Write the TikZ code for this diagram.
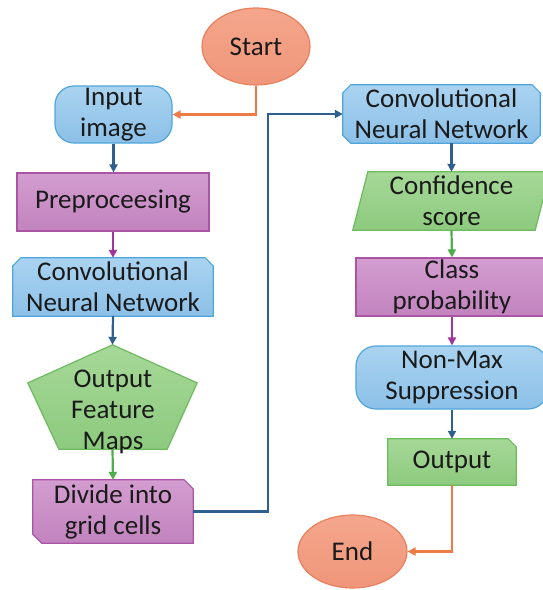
\documentclass[tikz,border=0pt]{standalone}
\usepackage{fontspec}
\setmainfont{Carlito}
\usetikzlibrary{arrows.meta,calc,backgrounds,shapes.geometric}
\definecolor{orfill}{HTML}{F4A68C}
\definecolor{orfill2}{HTML}{F0967A}
\definecolor{ordraw}{HTML}{E8805C}
\definecolor{blfill}{HTML}{AAD3F0}
\definecolor{blfill2}{HTML}{8CC0E8}
\definecolor{bldraw}{HTML}{4FA6DC}
\definecolor{pufill}{HTML}{D39DD0}
\definecolor{pufill2}{HTML}{C283BE}
\definecolor{pudraw}{HTML}{A955A4}
\definecolor{grfill}{HTML}{A6D898}
\definecolor{grfill2}{HTML}{8DCA7E}
\definecolor{grdraw}{HTML}{6DBB5E}
\definecolor{cor}{HTML}{EE7A45}
\definecolor{cbl}{HTML}{2F5F8F}
\definecolor{cpu}{HTML}{A0359B}
\definecolor{cgr}{HTML}{4DAE4A}
\definecolor{txtc}{HTML}{1A1A1A}
\begin{document}
\begin{tikzpicture}[x=1pt,y=-1pt,
  txt/.style={align=center, inner sep=0pt, text=txtc, font=\fontsize{27}{31}\selectfont},
  orangebox/.style={draw=ordraw, line width=1.2pt, top color=orfill, bottom color=orfill2},
  bluebox/.style={draw=bldraw, line width=1.2pt, top color=blfill, bottom color=blfill2},
  purplebox/.style={draw=pudraw, line width=1.2pt, top color=pufill, bottom color=pufill2},
  greenbox/.style={draw=grdraw, line width=1.2pt, top color=grfill, bottom color=grfill2},
  conn/.style={line width=2.2pt, -{Triangle[length=8pt,width=8pt]}}
]
\useasboundingbox (0,0) rectangle (542,590);

% left column
\node[txt, ellipse, orangebox, minimum width=108pt, minimum height=77pt] (start) at (256,46.5) {Start};
\node[txt, rectangle, rounded corners=19pt, bluebox, minimum width=117pt, minimum height=57pt] (input) at (113.5,114.5) {Input\\image};
\node[txt, rectangle, purplebox, minimum width=192pt, minimum height=58pt] (pre) at (113,202) {Preproceesing};
\node[txt, minimum width=200pt, minimum height=58pt] (cnn1) at (113,287) {Convolutional\\Neural Network};
\node[minimum width=169pt, minimum height=104pt, inner sep=0pt] (pent) at (112.5,397) {};
\node[txt] (feat) at (113,412) {Output\\Feature\\Maps};
\node[txt, minimum width=160pt, minimum height=63pt] (div) at (113,511.5) {Divide into\\grid cells};

% right column
\node[txt, minimum width=197pt, minimum height=58pt] (cnn2) at (441.5,114) {Convolutional\\Neural Network};
\node[txt, minimum width=197pt, minimum height=58pt] (conf) at (451.5,201) {Confidence\\score};
\node[txt, rectangle, purplebox, minimum width=192pt, minimum height=58pt] (cls) at (452,287) {Class\\probability};
\node[txt, rectangle, rounded corners=20pt, bluebox, minimum width=192pt, minimum height=63pt] (nms) at (452,377.5) {Non-Max\\Suppression};
\node[txt, minimum width=128pt, minimum height=46pt] (out) at (452,462) {Output};
\node[txt, ellipse, orangebox, minimum width=109pt, minimum height=73pt] (end) at (352.5,551.5) {End};

\begin{scope}[on background layer]
  \path[bluebox] ([xshift=8pt]cnn1.north west) -- ([xshift=-8pt]cnn1.north east) -- ([yshift=-8pt]cnn1.north east) -- (cnn1.south east) -- (cnn1.south west) -- ([yshift=-8pt]cnn1.north west) -- cycle;
  \path[greenbox] (pent.north) -- ($(pent.north east)!0.365!(pent.south east)$) -- ([xshift=-30pt]pent.south east) -- ([xshift=31pt]pent.south west) -- ($(pent.north west)!0.365!(pent.south west)$) -- cycle;
  \path[purplebox] (div.north west) -- ([xshift=-9pt]div.north east) -- ([yshift=-9pt]div.north east) -- (div.south east) -- ([xshift=9pt]div.south west) -- ([yshift=9pt]div.south west) -- cycle;
  \path[bluebox] ([xshift=8pt]cnn2.north west) -- ([xshift=-8pt]cnn2.north east) -- ([yshift=-8pt]cnn2.north east) -- ([yshift=8pt]cnn2.south east) -- ([xshift=-8pt]cnn2.south east) -- ([xshift=8pt]cnn2.south west) -- ([yshift=8pt]cnn2.south west) -- ([yshift=-8pt]cnn2.north west) -- cycle;
  \path[greenbox] ([xshift=15pt]conf.north west) -- (conf.north east) -- ([xshift=-15pt]conf.south east) -- (conf.south west) -- cycle;
  \path[greenbox] (out.north west) -- ([xshift=-8pt]out.north east) -- ([yshift=-8pt]out.north east) -- (out.south east) -- (out.south west) -- cycle;
\end{scope}

% connectors
\draw[conn, cor] (start.south) |- (input.east);
\draw[conn, cbl] (input.south) -- (input.south |- pre.north);
\draw[conn, cpu] (pre.south) -- (cnn1.north);
\draw[conn, cbl] (cnn1.south) -- (pent.north);
\draw[conn, cgr] (pent.south) -- (div.north);
\draw[conn, cbl] (div.east) -- ++(75,0) |- (cnn2.west);
\draw[conn, cbl] (conf.north |- cnn2.south) -- (conf.north);
\draw[conn, cgr] (conf.south) -- (cls.north);
\draw[conn, cpu] (cls.south) -- (nms.north);
\draw[conn, cbl] (nms.south) -- (out.north);
\draw[conn, cor] (out.south) |- (end.east);
\end{tikzpicture}
\end{document}
